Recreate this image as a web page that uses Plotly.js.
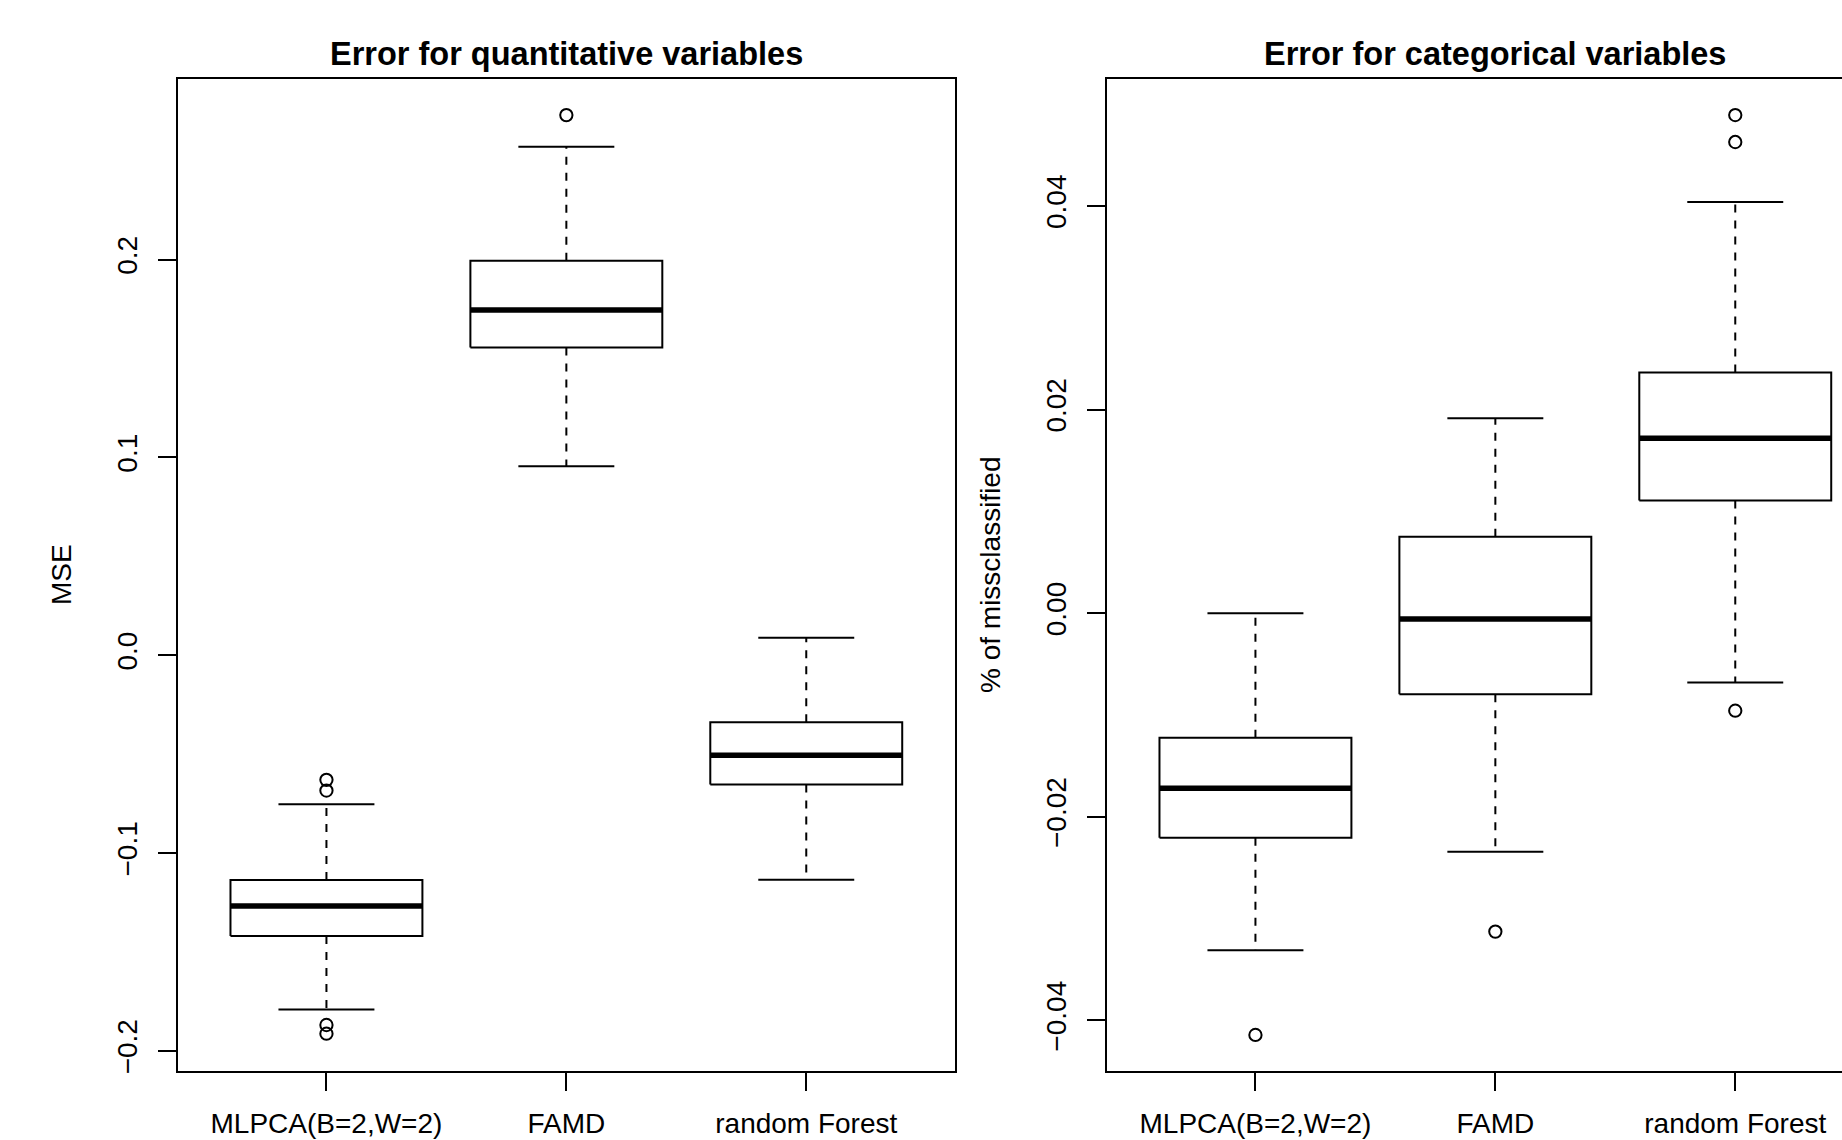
<!DOCTYPE html>
<html>
<head>
<meta charset="utf-8">
<script src="https://cdn.plot.ly/plotly-3.0.1.min.js"></script>
<style>html,body{margin:0;padding:0;background:#fff;}#chart{width:1842px;height:1140px;}</style>
</head>
<body>
<div id="chart"></div>
<script>
// ---- Data ----
const categories = ['MLPCA(B=2,W=2)', 'FAMD', 'random Forest'];

// Panel 1: Error for quantitative variables (MSE)
const quantLower  = [-0.1791, 0.0955, -0.1135];
const quantQ1     = [-0.1419, 0.1555, -0.0654];
const quantMedian = [-0.1267, 0.1745, -0.0505];
const quantQ3     = [-0.1136, 0.1994, -0.0339];
const quantUpper  = [-0.0753, 0.2570,  0.0088];
const quantOutliers = [[-0.0630, -0.0684, -0.1869, -0.1913], [0.2730], []];
const quantTickVals = [-0.2, -0.1, 0.0, 0.1, 0.2];
const quantTickText = ['\u22120.2', '\u22120.1', '0.0', '0.1', '0.2'];

// Panel 2: Error for categorical variables (% of missclassified)
const catLower  = [-0.03312, -0.02343, -0.00681];
const catQ1     = [-0.02205, -0.00797,  0.01108];
const catMedian = [-0.01720, -0.00058,  0.01719];
const catQ3     = [-0.01224,  0.00750,  0.02365];
const catUpper  = [ 0.00000,  0.01915,  0.04039];
const catOutliers = [[-0.04143], [-0.03128], [0.04893, 0.04628, -0.00958]];
const catTickVals = [-0.04, -0.02, 0.00, 0.02, 0.04];
const catTickText = ['\u22120.04', '\u22120.02', '0.00', '0.02', '0.04'];

const titles = ['Error for quantitative variables', 'Error for categorical variables'];
const yTitles = ['MSE', '% of missclassified'];

// ---- Building traces ----
const FONT = '"Liberation Sans", Arial, Helvetica, sans-serif';
const HALF_BOX = 0.4, HALF_CAP = 0.2;

function panelTraces(xa, ya, lo, q1, med, q3, up, outl) {
  const pos = categories.map((_, i) => i + 1);
  const boxX = [], boxY = [], medX = [], medY = [], whX = [], whY = [], capX = [], capY = [], oX = [], oY = [];
  pos.forEach((c, i) => {
    boxX.push(c - HALF_BOX, c + HALF_BOX, c + HALF_BOX, c - HALF_BOX, c - HALF_BOX, null);
    boxY.push(q1[i], q1[i], q3[i], q3[i], q1[i], null);
    medX.push(c - HALF_BOX, c + HALF_BOX, null);
    medY.push(med[i], med[i], null);
    whX.push(c, c, null, c, c, null);
    whY.push(q3[i], up[i], null, q1[i], lo[i], null);
    capX.push(c - HALF_CAP, c + HALF_CAP, null, c - HALF_CAP, c + HALF_CAP, null);
    capY.push(up[i], up[i], null, lo[i], lo[i], null);
    outl[i].forEach(v => { oX.push(c); oY.push(v); });
  });
  const base = {xaxis: xa, yaxis: ya, type: 'scatter', hoverinfo: 'skip', showlegend: false};
  return [
    Object.assign({}, base, {x: whX, y: whY, mode: 'lines', line: {color: '#000', width: 2, dash: '8px,8px'}}),
    Object.assign({}, base, {x: capX, y: capY, mode: 'lines', line: {color: '#000', width: 2}}),
    Object.assign({}, base, {x: boxX, y: boxY, mode: 'lines', line: {color: '#000', width: 2}}),
    Object.assign({}, base, {x: medX, y: medY, mode: 'lines', line: {color: '#000', width: 5.5}}),
    Object.assign({}, base, {x: oX, y: oY, mode: 'markers',
      marker: {symbol: 'circle-open', size: 12.3, color: '#000', line: {color: '#000', width: 2}}})
  ];
}

const data = [].concat(
  panelTraces('x', 'y', quantLower, quantQ1, quantMedian, quantQ3, quantUpper, quantOutliers),
  panelTraces('x2', 'y2', catLower, catQ1, catMedian, catQ3, catUpper, catOutliers)
);

const W = 1842, H = 1140;
const yDom = [(H - 1071.3) / H, (H - 78.7) / H];

function xAxis(domain, range, mirror) {
  return {
    domain: domain, range: range, showgrid: false, zeroline: false,
    showline: true, linecolor: '#000', linewidth: 2, mirror: mirror,
    ticks: 'outside', ticklen: 18, tickwidth: 2, tickcolor: '#000',
    tickvals: [1, 2, 3], ticktext: categories,
    tickfont: {family: FONT, size: 28, color: '#000'}, ticklabelstandoff: 8,
    fixedrange: true
  };
}
function yAxis(anchor, range, vals, text, mirror) {
  return {
    anchor: anchor, domain: yDom, range: range, showgrid: false, zeroline: false,
    showline: true, linecolor: '#000', linewidth: 2, mirror: mirror,
    ticks: 'outside', ticklen: 18, tickwidth: 2, tickcolor: '#000',
    tickvals: vals, ticktext: text, tickangle: -90,
    tickfont: {family: FONT, size: 28, color: '#000'}, ticklabelstandoff: 10,
    fixedrange: true
  };
}

const leftDom = [177.7 / W, 955 / W];
const rightDom = [1106.7 / W, 1];
const unitPx = (955 - 177.7) / 3.24;
const rightMax = 0.38 + (W - 1106.7) / unitPx;

const layout = {
  width: W, height: H,
  margin: {l: 0, r: 0, t: 0, b: 0},
  paper_bgcolor: '#fff', plot_bgcolor: '#fff',
  font: {family: FONT, color: '#000'},
  showlegend: false,
  xaxis: Object.assign(xAxis(leftDom, [0.38, 3.62], true), {anchor: 'y'}),
  yaxis: yAxis('x', [-0.2103, 0.2914], quantTickVals, quantTickText, true),
  xaxis2: Object.assign(xAxis(rightDom, [0.38, rightMax], true), {anchor: 'y2'}),
  yaxis2: yAxis('x2', [-0.0450, 0.0525], catTickVals, catTickText, false),
  annotations: [
    {text: '<b>' + titles[0] + '</b>', xref: 'paper', yref: 'paper', x: 566.4 / W, y: (H - 54) / H,
     xanchor: 'center', yanchor: 'middle', showarrow: false, font: {family: FONT, size: 32.5, color: '#000'}},
    {text: '<b>' + titles[1] + '</b>', xref: 'paper', yref: 'paper', x: 1495.3 / W, y: (H - 54) / H,
     xanchor: 'center', yanchor: 'middle', showarrow: false, font: {family: FONT, size: 32.5, color: '#000'}},
    {text: yTitles[0], xref: 'paper', yref: 'paper', x: 61 / W, y: (H - 575) / H, textangle: -90,
     xanchor: 'center', yanchor: 'middle', showarrow: false, font: {family: FONT, size: 28, color: '#000'}},
    {text: yTitles[1], xref: 'paper', yref: 'paper', x: 990 / W, y: (H - 575) / H, textangle: -90,
     xanchor: 'center', yanchor: 'middle', showarrow: false, font: {family: FONT, size: 28, color: '#000'}}
  ]
};

Plotly.newPlot('chart', data, layout, {displayModeBar: false, staticPlot: true});
</script>
</body>
</html>
